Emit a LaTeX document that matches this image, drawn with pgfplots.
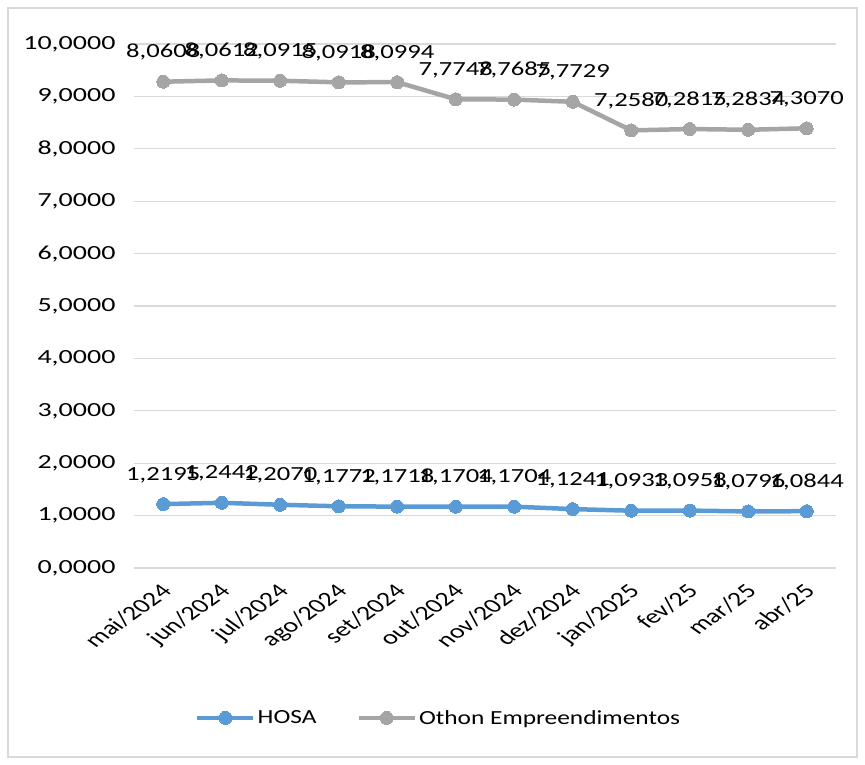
\documentclass[border=0pt]{standalone}
\usepackage{fontspec}
\setmainfont{Carlito}
\newfontfamily\tickfont{Carlito}[FakeStretch=1.4]
\newfontfamily\datafont{Carlito}[FakeStretch=1.33]
\newfontfamily\legfont{Carlito}[FakeStretch=1.27]
\usepackage{pgfplots}
\usepackage{pgfplotstable}
\pgfplotsset{compat=1.18}
\definecolor{hosa}{HTML}{5B9BD5}
\definecolor{othon}{HTML}{A5A5A5}
\definecolor{gridc}{HTML}{D9D9D9}
\pgfplotstableread{
x h hl o ol
0 1.2195 1,2195 8.0608 8,0608
1 1.2442 1,2442 8.0612 8,0612
2 1.2070 1,2070 8.0915 8,0915
3 1.1772 1,1772 8.0918 8,0918
4 1.1718 1,1718 8.0994 8,0994
5 1.1704 1,1704 7.7748 7,7748
6 1.1704 1,1704 7.7685 7,7685
7 1.1241 1,1241 7.7729 7,7729
8 1.0933 1,0933 7.2580 7,2580
9 1.0958 1,0958 7.2815 7,2815
10 1.0796 1,0796 7.2834 7,2834
11 1.0844 1,0844 7.3070 7,3070
}\data
\begin{document}
\begin{tikzpicture}
\path (-134pt,-196pt) rectangle (731pt,568pt);
\draw[gridc, line width=1.3pt] (-126pt,-189pt) rectangle (723pt,560pt);
\begin{axis}[
  at={(0,0)}, anchor=south west,
  width=702pt, height=524pt, scale only axis,
  xmin=-0.5, xmax=11.5, ymin=0, ymax=10,
  ytick={0,1,...,10},
  xtick={0,1,...,11},
  xticklabels={mai/2024,jun/2024,jul/2024,ago/2024,set/2024,out/2024,nov/2024,dez/2024,jan/2025,fev/25,mar/25,abr/25},
  axis line style={draw=none},
  major tick length=0pt,
  ymajorgrids,
  grid style={gridc, line width=1.3pt},
  tick label style={text=black},
  /pgf/number format/.cd, fixed, fixed zerofill, precision=4, use comma, assume math mode=true,
  /pgfplots/.cd,
  yticklabel style={font=\tickfont\fontsize{20}{24}\selectfont, xshift=-15pt},
  xticklabel style={font=\fontsize{20}{24}\selectfont, xshift=-4pt, yshift=-10pt, cm={0.99,0.707,-0.99,0.707,(0,0)}, anchor=north east},
  stack plots=y,
  legend style={at={(0.434,-0.286)}, anchor=center, draw=none, fill=none,
    legend columns=2, font=\legfont\fontsize{20}{24}\selectfont,
    /tikz/every even column/.append style={column sep=38pt}},
  legend image code/.code={\draw[mark repeat=2,mark phase=2,#1] plot coordinates {(0pt,0pt) (28pt,0pt) (56pt,0pt)};},
  nodes near coords style={font=\datafont\fontsize{20}{24}\selectfont, text=black, anchor=south, yshift=18pt},
]
\addplot[hosa, line width=4.5pt, line join=round, mark=*, mark size=6.5pt,
  mark options={solid, fill=hosa, draw=hosa, line width=0pt},
  nodes near coords, point meta=explicit symbolic]
  table[x=x, y=h, meta=hl]{\data};
\addlegendentry{HOSA}
\addplot[othon, line width=4.5pt, line join=round, mark=*, mark size=6.5pt,
  mark options={solid, fill=othon, draw=othon, line width=0pt},
  nodes near coords, point meta=explicit symbolic]
  table[x=x, y=o, meta=ol]{\data};
\addlegendentry{Othon Empreendimentos}
\end{axis}
\end{tikzpicture}
\end{document}
